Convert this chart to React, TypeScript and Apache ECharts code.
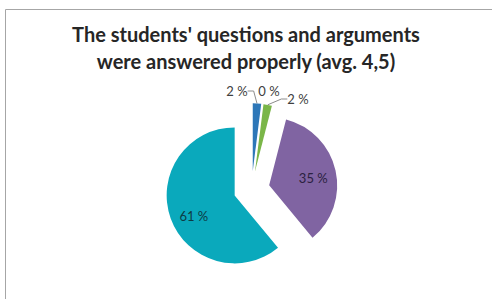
import React, { useEffect, useRef } from "react";
import * as echarts from "echarts";

const titleLines = ["The students' questions and arguments", "were answered properly (avg. 4,5)"];
const categories = ["1", "2", "3", "4", "5"];
const values = [2, 0, 2, 35, 61];
const colors = ["#2D77B8", "#C0504D", "#7AB648", "#8064A2", "#0AA9BC"];
const insideLabel = [false, false, false, true, true];

export default function App() {
  const ref = useRef<HTMLDivElement>(null);
  useEffect(() => {
    if (!ref.current) return;
    const chart = echarts.init(ref.current, null, { renderer: "svg" });

    const baseCenter = [251.6, 189.3];
    const radius = 68;
    const explode = 18;
    const total = values.reduce((a, b) => a + b, 0);

    // label placement (layout only)
    const outsidePos: Record<number, { x: number; y: number }> = {
      0: { x: 237, y: 91 },
      1: { x: 269, y: 91 },
      2: { x: 298, y: 99 },
    };
    const insideShift: Record<number, { dx: number; dy: number }> = {
      3: { dx: 8, dy: 1 },
      4: { dx: -6, dy: 8 },
    };

    let cum = 0;
    const series = values.map((v, i) => {
      const mid = ((cum + v / 2) / total) * Math.PI * 2;
      cum += v;
      const cx = baseCenter[0] + explode * Math.sin(mid);
      const cy = baseCenter[1] - explode * Math.cos(mid);
      return {
        type: "pie",
        name: categories[i],
        center: [cx, cy],
        radius: [0, radius],
        startAngle: 90,
        clockwise: true,
        avoidLabelOverlap: false,
        silent: true,
        emphasis: { disabled: true },
        label: {
          fontFamily: "Lato",
          fontSize: 13,
          color: "#404040",
          formatter: (p: any) => `${p.value} %`,
        },
        labelLine: {
          length: 6,
          length2: 6,
          lineStyle: { color: "#8c8c8c", width: 1 },
        },
        labelLayout: (params: any) => {
          if (params.dataIndex !== i) return {};
          const pos = outsidePos[i];
          if (pos) return { x: pos.x, y: pos.y, align: "center", verticalAlign: "middle" };
          const sh = insideShift[i];
          if (sh) return { dx: sh.dx, dy: sh.dy };
          return {};
        },
        data: categories.map((c, j) => {
          const own = j === i;
          return {
            name: c,
            value: values[j],
            itemStyle: {
              color: own ? colors[j] : "rgba(0,0,0,0)",
              borderWidth: 0,
            },
            label: own
              ? insideLabel[j]
                ? { show: true, position: "inside", color: j === 4 ? "#0d3b44" : "#2b2140" }
                : { show: true, position: "outside" }
              : { show: false },
            labelLine: { show: own && !insideLabel[j] && values[j] > 0 },
          };
        }),
      };
    });

    chart.setOption({
      animation: false,
      backgroundColor: "#ffffff",
      title: {
        text: titleLines.join("\n"),
        left: "center",
        top: 15.5,
        padding: [5, 5, 5, 14],
        textStyle: {
          fontFamily: "Lato",
          fontWeight: "bold",
          fontSize: 20,
          lineHeight: 27,
          color: "#262626",
        },
      },
      graphic: [
        {
          type: "rect",
          shape: { x: 5.5, y: 9.5, width: 700, height: 400 },
          style: { fill: "none", stroke: "#a6a6a6", lineWidth: 1 },
          silent: true,
        },
      ],
      series,
    });
    return () => chart.dispose();
  }, []);
  return (
    <div
      ref={ref}
      style={{ position: "fixed", left: 0, top: 0, width: 492, height: 299 }}
    />
  );
}
